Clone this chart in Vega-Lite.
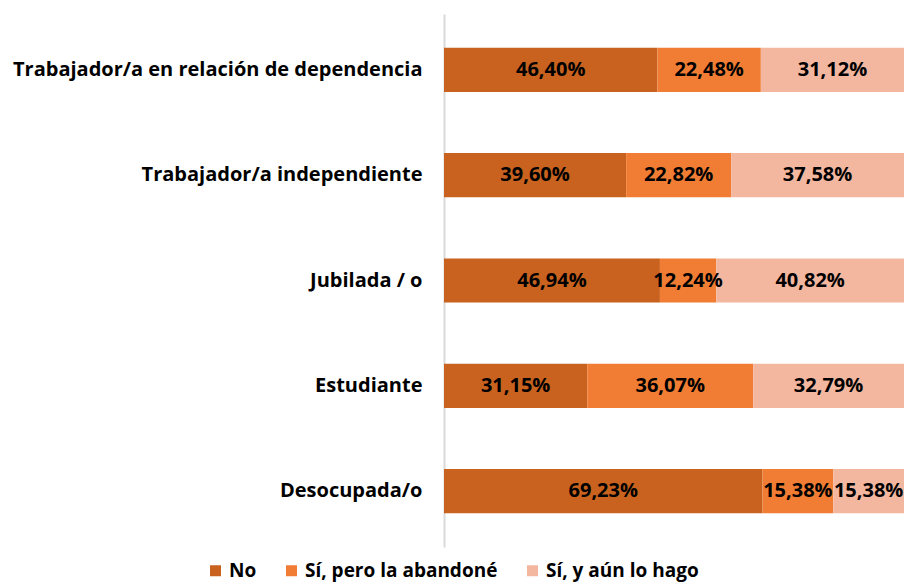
{
  "$schema": "https://vega.github.io/schema/vega-lite/v6.json",
  "width": 460,
  "height": 533,
  "autosize": "none",
  "padding": {"left": 444, "top": 14, "right": 1, "bottom": 37},
  "config": {
    "view": {"stroke": null},
    "locale": {"number": {"decimal": ",", "thousands": ".", "grouping": [3], "currency": ["", "€"]}},
    "font": "Open Sans"
  },
  "data": {
    "values": [
      {"cat": "Trabajador/a en relación de dependencia", "resp": "No", "v": 0.4640},
      {"cat": "Trabajador/a en relación de dependencia", "resp": "Sí, pero la abandoné", "v": 0.2248},
      {"cat": "Trabajador/a en relación de dependencia", "resp": "Sí, y aún lo hago", "v": 0.3112},
      {"cat": "Trabajador/a  independiente", "resp": "No", "v": 0.3960},
      {"cat": "Trabajador/a  independiente", "resp": "Sí, pero la abandoné", "v": 0.2282},
      {"cat": "Trabajador/a  independiente", "resp": "Sí, y aún lo hago", "v": 0.3758},
      {"cat": "Jubilada / o", "resp": "No", "v": 0.4694},
      {"cat": "Jubilada / o", "resp": "Sí, pero la abandoné", "v": 0.1224},
      {"cat": "Jubilada / o", "resp": "Sí, y aún lo hago", "v": 0.4082},
      {"cat": "Estudiante", "resp": "No", "v": 0.3115},
      {"cat": "Estudiante", "resp": "Sí, pero la abandoné", "v": 0.3607},
      {"cat": "Estudiante", "resp": "Sí, y aún lo hago", "v": 0.3279},
      {"cat": "Desocupada/o", "resp": "No", "v": 0.6923},
      {"cat": "Desocupada/o", "resp": "Sí, pero la abandoné", "v": 0.1538},
      {"cat": "Desocupada/o", "resp": "Sí, y aún lo hago", "v": 0.1538}
    ]
  },
  "encoding": {
    "y": {
      "field": "cat",
      "type": "nominal",
      "sort": null,
      "scale": {"paddingInner": 0.58, "paddingOuter": 0.32},
      "axis": {
        "title": null,
        "ticks": false,
        "domain": true,
        "domainColor": "#D9D9D9",
        "domainWidth": 2,
        "labelPadding": 22,
        "labelFont": "Open Sans",
        "labelFontWeight": "bold",
        "labelFontSize": 20,
        "labelColor": "#000000",
        "labelLimit": 0
      }
    },
    "order": {"field": "resp", "sort": "ascending"}
  },
  "layer": [
    {
      "mark": {"type": "bar"},
      "encoding": {
        "x": {"field": "v", "type": "quantitative", "stack": "normalize", "axis": null, "scale": {"domain": [0, 1]}},
        "color": {
          "field": "resp",
          "type": "nominal",
          "scale": {
            "domain": ["No", "Sí, pero la abandoné", "Sí, y aún lo hago"],
            "range": ["#C8621E", "#F07D33", "#F3B7A0"]
          },
          "legend": {
            "title": null,
            "orient": "none",
            "direction": "horizontal",
            "legendX": -238,
            "legendY": 547,
            "symbolType": "square",
            "symbolSize": 121,
            "symbolStrokeWidth": 0,
            "labelFont": "Open Sans",
            "labelFontWeight": "bold",
            "labelFontSize": 19,
            "labelColor": "#000000",
            "labelLimit": 0,
            "columnPadding": 25,
            "labelOffset": 4
          }
        }
      }
    },
    {
      "mark": {"type": "text", "font": "Open Sans", "fontWeight": "bold", "fontSize": 20, "color": "#000000", "baseline": "middle", "align": "center"},
      "encoding": {
        "x": {"field": "v", "type": "quantitative", "stack": "normalize", "bandPosition": 0.5},
        "detail": {"field": "resp"},
        "text": {"field": "v", "type": "quantitative", "format": ".2%"}
      }
    }
  ]
}
